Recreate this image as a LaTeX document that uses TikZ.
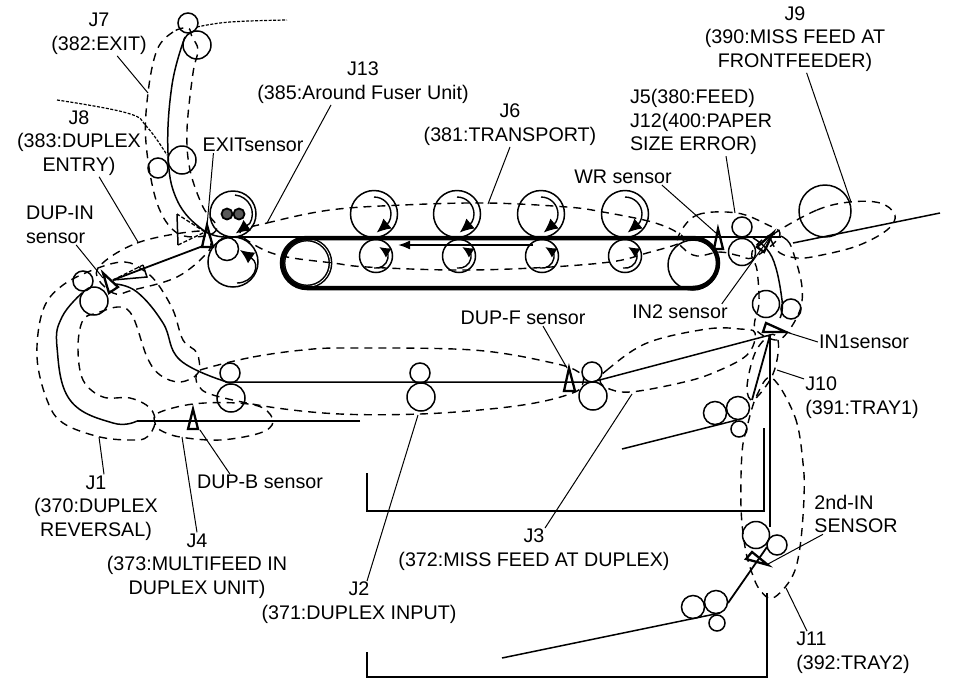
\documentclass[tikz,border=0pt]{standalone}
\usepackage{fontspec}
\setmainfont{Liberation Sans}
\usetikzlibrary{arrows.meta,positioning,calc}
\begin{document}
\begin{tikzpicture}[
x=1pt,y=-1pt,
lbl/.style={font=\fontsize{19.7}{23.7}\selectfont,align=center,inner sep=1pt},
roller/.style={circle,draw,inner sep=0pt,line width=1.5pt},
rollerxs/.style={roller,minimum size=16pt},
rollers/.style={roller,minimum size=20pt},
rollert/.style={roller,minimum size=23pt},
rollerm/.style={roller,minimum size=28pt},
rollerl/.style={roller,minimum size=33pt},
rollerh/.style={roller,minimum size=47pt},
heatdot/.style={roller,minimum size=11pt,fill=black!65,line width=1.8pt},
paper/.style={line width=1.5pt},
belt/.style={line width=4.5pt},
frame/.style={line width=1.5pt},
leader/.style={line width=1pt},
jam/.style={dash pattern=on 8pt off 6pt,line width=1.4pt},
guide/.style={dash pattern=on 3pt off 1.5pt,line width=1.2pt},
sensor/.style={line width=2.3pt,line join=miter},
ghost/.style={dash pattern=on 4pt off 2pt,line width=1.3pt},
spin/.style={line width=1.4pt,-{Latex[length=14pt,width=13pt]}},
spinlow/.style={line width=1.4pt,-{Latex[length=11pt,width=11pt]}},
arr/.style={-{Latex[length=12pt,width=9pt]},line width=1.8pt}
]
\useasboundingbox (0,0) rectangle (975,678);
% exit side rollers
\node[rollers] (exitA) at (188,23) {};
\node[rollerm] (exitB) at (197,45) {};
\node[rollerm] (entryA) at (182,160) {};
\node[rollers] (entryB) at (158,168) {};
\node[rollers] (dupinA) at (83,281) {};
\node[rollerm] (dupinB) at (94,301) {};
% fuser unit
\node[roller,minimum size=46pt] (fuserA) at (233,214) {};
\node[heatdot] (heatA) at (227,214) {};
\node[heatdot] (heatB) at (239,214) {};
\node[roller,minimum size=50pt] (fuserB) at (233,262) {};
\node[rollert] (fuserC) at (227,249) {};
% transport rollers
\node[rollerh] (upA) at (374,214) {};
\node[rollerh] (upB) at (457,214) {};
\node[rollerh] (upC) at (541,214) {};
\node[rollerh] (upD) at (625,214) {};
\node[rollerl] (lowA) at (376,256) {};
\node[rollerl] (lowB) at (459,256) {};
\node[rollerl] (lowC) at (542,256) {};
\node[rollerl] (lowD) at (625,256) {};
\node[roller,minimum size=47pt,double,double distance=.8pt] (beltL) at (307,263) {};
\node[roller,minimum size=50pt] (beltR) at (693,265) {};
% feed side rollers
\node[rollers] (regA) at (742,227) {};
\node[roller,minimum size=27pt] (regB) at (742,252) {};
\node[roller,minimum size=52pt] (front) at (825,211) {};
\node[roller,minimum size=27pt] (inA) at (766,304) {};
\node[rollers] (inB) at (791,309) {};
% duplex rollers
\node[rollers] (dupA) at (230,373) {};
\node[rollerm] (dupB) at (231,398) {};
\node[rollers] (dupC) at (420,373) {};
\node[rollerm] (dupD) at (421,397) {};
\node[rollers] (dupE) at (592,372) {};
\node[rollerm] (dupF) at (593,396) {};
% trays
\node[rollert] (trayA) at (715,413) {};
\node[rollert] (trayB) at (738,408) {};
\node[rollerxs] (trayC) at (739,429) {};
\node[rollert] (trayD) at (693,607) {};
\node[rollert] (trayE) at (716,602) {};
\node[rollerxs] (trayF) at (717,623) {};
\node[roller,minimum size=27pt] (secA) at (756,535) {};
\node[rollers] (secB) at (777,545) {};
% belt
\draw[belt,rounded corners=25pt] (282,238) rectangle (718,288);
% paper path
\coordinate (exitTop) at (185,37);
\coordinate (fuserIn) at (225,237);
\coordinate (wrEnd) at (781,237);
\coordinate (inEnd) at (940,213);
\coordinate (inStart) at (793,243);
\coordinate (dupBend) at (137,421);
\coordinate (dupBack) at (360,421);
\coordinate (dupJoin) at (227,382);
\coordinate (dupMid) at (592,382);
\coordinate (inJoin) at (770,335);
\coordinate (vertEnd) at (770,527);
\coordinate (trayStart) at (622,449);
\coordinate (trayEnd) at (737,420);
\coordinate (tray2Start) at (502,658);
\coordinate (tray2End) at (720,613);
\coordinate (tray1Up) at (752,400);
\coordinate (tray2Up) at (728,603);
\coordinate (secUp) at (767,547);
\coordinate (dupinOut) at (113,280);
\coordinate (exitIn) at (203,246);
\draw[paper] plot[smooth,tension=.7] coordinates {(exitTop) (172,85) (168,153) (177,200) (203,230) (fuserIn)};
\draw[paper] (fuserIn)--(wrEnd);
\draw[paper] (inStart)--(inEnd);
\draw[paper] plot[smooth,tension=.7] coordinates {(753,238) (772,257) (782,300) (780,318)};
\draw[paper] plot[smooth,tension=.7] coordinates {(115,284) (137,292) (163,323) (180,360) (dupJoin)};
\draw[paper] (dupBack)--(dupBend);
\draw[paper] plot[smooth,tension=.7] coordinates {(dupBend) (113,423) (70,400) (57,347) (62,317) (82,293)};
\draw[paper] (dupJoin)--(dupMid)--(inJoin);
\draw[paper] (inJoin)--(vertEnd);
\draw[paper] (trayStart)--(trayEnd);
\draw[paper] (tray2Start)--(tray2End);
\draw[paper,line width=1.8pt] (tray1Up)--(inJoin);
\draw[paper,line width=1.8pt] (tray2Up)--(secUp);
\draw[paper,line width=1.8pt] (dupinOut)--(exitIn);
\draw[arr] (533,245)--(398,245);
% tray frames
\coordinate (frameAa) at (367,473);
\coordinate (frameAb) at (367,511);
\coordinate (frameAc) at (764,511);
\coordinate (frameAd) at (764,428);
\coordinate (frameBa) at (367,652);
\coordinate (frameBb) at (367,677);
\coordinate (frameBc) at (767,677);
\coordinate (frameBd) at (767,593);
\draw[frame] (frameAa)--(frameAb)--(frameAc)--(frameAd);
\draw[frame] (frameBa)--(frameBb)--(frameBc)--(frameBd);
% roller turning arrows
\draw[spin] ($(upA)+(0,-17)$) arc[start angle=-90,end angle=30,radius=17] -- ++(-12,10);
\draw[spin] ($(upB)+(0,-17)$) arc[start angle=-90,end angle=30,radius=17] -- ++(-12,10);
\draw[spin] ($(upC)+(0,-17)$) arc[start angle=-90,end angle=30,radius=17] -- ++(-12,10);
\draw[spin] ($(upD)+(0,-17)$) arc[start angle=-90,end angle=30,radius=17] -- ++(-12,10);
\draw[spinlow] ($(lowA)+(-2,12)$) arc[start angle=100,end angle=-20,radius=12] -- ++(-8,-5);
\draw[spinlow] ($(lowB)+(-2,12)$) arc[start angle=100,end angle=-20,radius=12] -- ++(-8,-5);
\draw[spinlow] ($(lowC)+(-2,12)$) arc[start angle=100,end angle=-20,radius=12] -- ++(-8,-5);
\draw[spinlow] ($(lowD)+(-2,12)$) arc[start angle=100,end angle=-20,radius=12] -- ++(-8,-5);
\draw[spin] ($(fuserA)+(2,-19)$) arc[start angle=-85,end angle=30,radius=19] -- ++(-14,10);
\draw[spin] ($(fuserB)+(4,21)$) .. controls ($(fuserB)+(20,21)$) and ($(fuserB)+(29,3)$) .. ($(fuserB)+(7,-12)$);
% sensors
\draw[sensor] (207,225)--(202,247)--(213,247)--cycle;
\draw[sensor] (103,273)--(118,287)--(109,293)--cycle;
\draw[sensor] (718,229)--(714,249)--(723,249)--cycle;
\draw[sensor] (773,233)--(757,247)--(764,252)--cycle;
\draw[sensor] (766,323)--(763,332)--(786,332)--cycle;
\draw[sensor] (569,368)--(564,391)--(575,391)--cycle;
\draw[sensor] (193,409)--(188,429)--(198,429)--cycle;
\draw[sensor] (752,552)--(746,559)--(768,565)--cycle;
% moved sensor flags
\draw[paper] (177,214)--(178,245);
\draw[ghost] (178,245)--(205,232)--(177,214);
\draw[paper] (143,265)--(147,277)--(113,280);
\draw[ghost] (113,280)--(143,265);
\draw[guide] plot[smooth,tension=.7] coordinates {(197,27) (230,22) (287,20)};
\draw[guide] plot[smooth,tension=.7] coordinates {(57,100) (127,113) (147,127) (167,155)};
% jam zones
\draw[jam] plot[smooth cycle,tension=.6] coordinates {(188,28) (173,32) (157,50) (148,93) (146,143) (157,203) (177,233) (205,236) (217,227) (203,207) (190,170) (187,130) (193,73) (198,50) (192,37)};
\draw[jam] plot[smooth cycle,tension=.6] coordinates {(97,270) (137,243) (200,231) (210,240) (207,253) (177,277) (133,290) (113,293)};
\draw[jam] plot[smooth cycle,tension=.6] coordinates {(240,232) (267,223) (330,210) (403,205) (487,203) (567,207) (603,212) (652,222) (678,233) (682,242) (647,253) (610,262) (533,268) (453,270) (367,267) (333,263) (287,257) (260,248)};
\draw[jam] plot[smooth cycle,tension=.6] coordinates {(678,237) (697,215) (737,213) (768,225) (780,233) (772,245) (752,258) (740,256) (720,252) (697,256) (683,248)};
\draw[jam] plot[smooth cycle,tension=.6] coordinates {(775,233) (817,210) (850,202) (880,203) (895,215) (887,230) (857,246) (817,256) (797,258) (780,253) (772,242)};
\draw[jam] plot[smooth cycle,tension=.6] coordinates {(770,235) (787,240) (795,258) (802,287) (800,310) (787,333) (775,340) (755,328) (759,303) (757,270) (752,252)};
\draw[jam] plot[smooth cycle,tension=.6] coordinates {(770,335) (778,340) (777,360) (770,380) (753,400) (747,387) (755,353)};
\draw[jam] plot[smooth cycle,tension=.6] coordinates {(772,378) (795,417) (803,463) (804,497) (800,547) (792,577) (773,598) (760,590) (752,573) (745,547) (741,507) (742,453) (747,427) (757,395)};
\draw[jam] plot[smooth cycle,tension=.6] coordinates {(600,380) (607,370) (647,343) (707,329) (740,329) (755,333) (747,355) (713,373) (680,383) (630,392) (607,388)};
\draw[jam] plot[smooth cycle,tension=.6] coordinates {(207,368) (253,357) (303,350) (347,348) (473,350) (553,363) (580,373) (583,383) (575,392) (540,402) (490,409) (420,414) (340,414) (270,407) (213,395) (198,385) (197,373)};
\draw[jam] plot[smooth cycle,tension=.6] coordinates {(155,423) (158,413) (193,404) (237,403) (263,408) (273,422) (260,433) (220,440) (180,437) (160,430)};
\draw[jam] plot[smooth cycle,tension=.6] coordinates {(98,268) (125,262) (143,270) (157,283) (173,310) (183,340) (197,353) (198,373) (180,382) (160,375) (147,357) (133,317) (120,307) (97,313) (83,320) (78,347) (83,380) (103,397) (130,398) (150,408) (155,423) (147,437) (133,440) (100,437) (63,423) (47,400) (37,357) (43,310) (63,285)};
% labels
\node[lbl] (lblJ7) at (99,34) {J7\\(382:EXIT)};
\node[lbl] (lblJ8) at (79,143) {J8\\(383:DUPLEX\\ENTRY)};
\node[lbl] (lblExit) at (253,145) {EXITsensor};
\node[lbl,align=left] (lblDupin) at (60,225) {DUP-IN\\sensor};
\node[lbl] (lblJ13) at (363,83) {J13\\(385:Around Fuser Unit)};
\node[lbl] (lblJ6) at (510,125) {J6\\(381:TRANSPORT)};
\node[lbl] (lblJ9) at (795,39) {J9\\(390:MISS FEED AT\\FRONTFEEDER)};
\node[lbl,align=left] (lblJ5) at (701,122) {J5(380:FEED)\\J12(400:PAPER\\SIZE ERROR)};
\node[lbl] (lblWr) at (623,177) {WR sensor};
\node[lbl] (lblIn2) at (680,312) {IN2 sensor};
\node[lbl] (lblDupf) at (523,318) {DUP-F sensor};
\node[lbl] (lblIn1) at (864,342) {IN1sensor};
\node[lbl,align=left] (lblJ10) at (862,398) {J10\\(391:TRAY1)};
\node[lbl,align=left] (lblSec) at (856,514) {2nd-IN\\SENSOR};
\node[lbl,align=left] (lblJ11) at (853,653) {J11\\(392:TRAY2)};
\node[lbl] (lblJ1) at (96,508) {J1\\(370:DUPLEX\\REVERSAL)};
\node[lbl] (lblJ4) at (197,566) {J4\\(373:MULTIFEED IN\\DUPLEX UNIT)};
\node[lbl] (lblDupb) at (260,482) {DUP-B sensor};
\node[lbl] (lblJ2) at (359,603) {J2\\(371:DUPLEX INPUT)};
\node[lbl] (lblJ3) at (534,550) {J3\\(372:MISS FEED AT DUPLEX)};
% leader tips
\coordinate (tipJ7) at (148,93);
\coordinate (tipJ8) at (138,242);
\coordinate (tipExit) at (207,226);
\coordinate (tipDupin) at (103,278);
\coordinate (tipJ13) at (267,223);
\coordinate (tipJ6) at (488,204);
\coordinate (tipJ9) at (851,202);
\coordinate (tipJ5) at (735,213);
\coordinate (tipWr) at (716,233);
\coordinate (tipIn2) at (773,233);
\coordinate (tipDupf) at (567,368);
\coordinate (tipIn1) at (786,332);
\coordinate (tipJ10) at (777,370);
\coordinate (tipSec) at (768,564);
\coordinate (tipJ11) at (786,588);
\coordinate (tipJ1) at (99,437);
\coordinate (tipJ4) at (182,437);
\coordinate (tipDupb) at (200,430);
\coordinate (tipJ2) at (418,415);
\coordinate (tipJ3) at (632,394);
\draw[leader] (lblJ7)--(tipJ7);
\draw[leader] (lblJ8)--(tipJ8);
\draw[leader] ([xshift=12pt]lblExit.south west)--(tipExit);
\draw[leader] (lblDupin)--(tipDupin);
\draw[leader] ([xshift=-32pt]lblJ13.south)--(tipJ13);
\draw[leader] (lblJ6.south)--(tipJ6);
\draw[leader] (lblJ9)--(tipJ9);
\draw[leader] ([xshift=25pt]lblJ5.south)--(tipJ5);
\draw[leader] ([xshift=-11pt]lblWr.south east)--(tipWr);
\draw[leader] ([xshift=-7pt]lblIn2.north east)--(tipIn2);
\draw[leader] ([xshift=20pt]lblDupf.south)--(tipDupf);
\draw[leader] (lblIn1.west)--(tipIn1);
\draw[leader] (lblJ10)--(tipJ10);
\draw[leader] ([xshift=-33pt]lblSec.south)--(tipSec);
\draw[leader] ([xshift=12pt]lblJ11.north west)--(tipJ11);
\draw[leader] ([xshift=8pt]lblJ1.north)--(tipJ1);
\draw[leader] (lblJ4.north)--(tipJ4);
\draw[leader] ([xshift=34pt]lblDupb.north west)--(tipDupb);
\draw[leader] ([xshift=8pt]lblJ2.north)--(tipJ2);
\draw[leader] ([xshift=11pt]lblJ3.north)--(tipJ3);
\end{tikzpicture}
\end{document}
